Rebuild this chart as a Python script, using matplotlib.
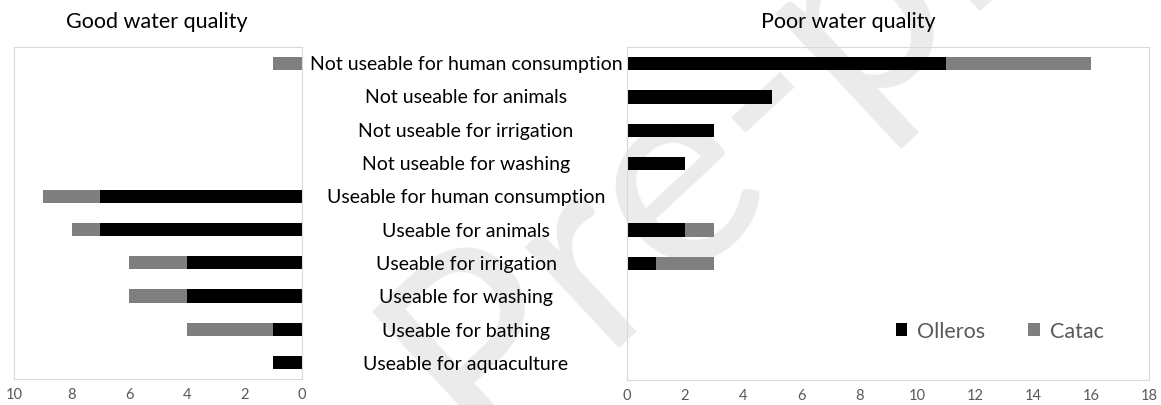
import matplotlib
matplotlib.use("Agg")
import matplotlib.pyplot as plt
import matplotlib.transforms as mtransforms
import numpy as np

plt.rcParams['font.family'] = ['Lato', 'DejaVu Sans']

categories = ["Not useable for human consumption", "Not useable for animals",
              "Not useable for irrigation", "Not useable for washing",
              "Useable for human consumption", "Useable for animals",
              "Useable for irrigation", "Useable for washing",
              "Useable for bathing", "Useable for aquaculture"]
# good water quality
good_olleros = [0, 0, 0, 0, 7, 7, 4, 4, 1, 1]
good_catac = [1, 0, 0, 0, 2, 1, 2, 2, 3, 0]
# poor water quality
poor_olleros = [11, 5, 3, 2, 0, 2, 1, 0, 0, 0]
poor_catac = [5, 0, 0, 0, 0, 1, 2, 0, 0, 0]

c_oll = '#000000'
c_cat = '#7f7f7f'
grid_c = '#d9d9d9'
txt_c = '#595959'

W, H = 1161, 406
fig = plt.figure(figsize=(W/100, H/100), dpi=100)

# watermark
fig.text(480/W, 1-455/H, "Pre-proof", fontsize=195, color='#ebebeb', rotation=43,
         ha='left', va='baseline', zorder=-5, rotation_mode='anchor')

axL = fig.add_axes([14/W, 1-380/H, 288/W, 332/H])
axR = fig.add_axes([627/W, 1-381/H, 522/W, 333/H])

y = np.arange(len(categories))
h = 0.4

axL.barh(y, good_olleros, height=h, color=c_oll)
axL.barh(y, good_catac, left=good_olleros, height=h, color=c_cat)
axR.barh(y, poor_olleros, height=h, color=c_oll, label='Olleros')
axR.barh(y, poor_catac, left=poor_olleros, height=h, color=c_cat, label='Catac')

axL.set_xlim(10, 0)
axL.set_xticks(np.arange(0, 11, 2))
axR.set_xlim(0, 18)
axR.set_xticks(np.arange(0, 19, 2))

for ax in (axL, axR):
    ax.set_facecolor('none')
    ax.set_ylim(len(categories) - 0.5, -0.5)
    ax.set_yticks([])
    for s in ax.spines.values():
        s.set_color(grid_c)
        s.set_linewidth(0.8)
    ax.tick_params(axis='x', length=0, labelsize=10.5, labelcolor=txt_c, pad=6)

fig.text(157/W, 1-22/H, "Good water quality", fontsize=15.5, ha='center', va='center')
fig.text(848/W, 1-22/H, "Poor water quality", fontsize=15.5, ha='center', va='center')

trans = mtransforms.blended_transform_factory(fig.transFigure, axR.transData)
for i, cat in enumerate(categories):
    fig.text(466/W, i, cat, transform=trans, ha='center', va='center', fontsize=14)

axR.legend(loc='center', bbox_to_anchor=(0.714, 0.147), ncol=2, frameon=False,
           fontsize=15.5, labelcolor=txt_c, handlelength=0.55, handleheight=0.55,
           handletextpad=0.45, columnspacing=2.0)

fig.savefig("out.png", dpi=100)
